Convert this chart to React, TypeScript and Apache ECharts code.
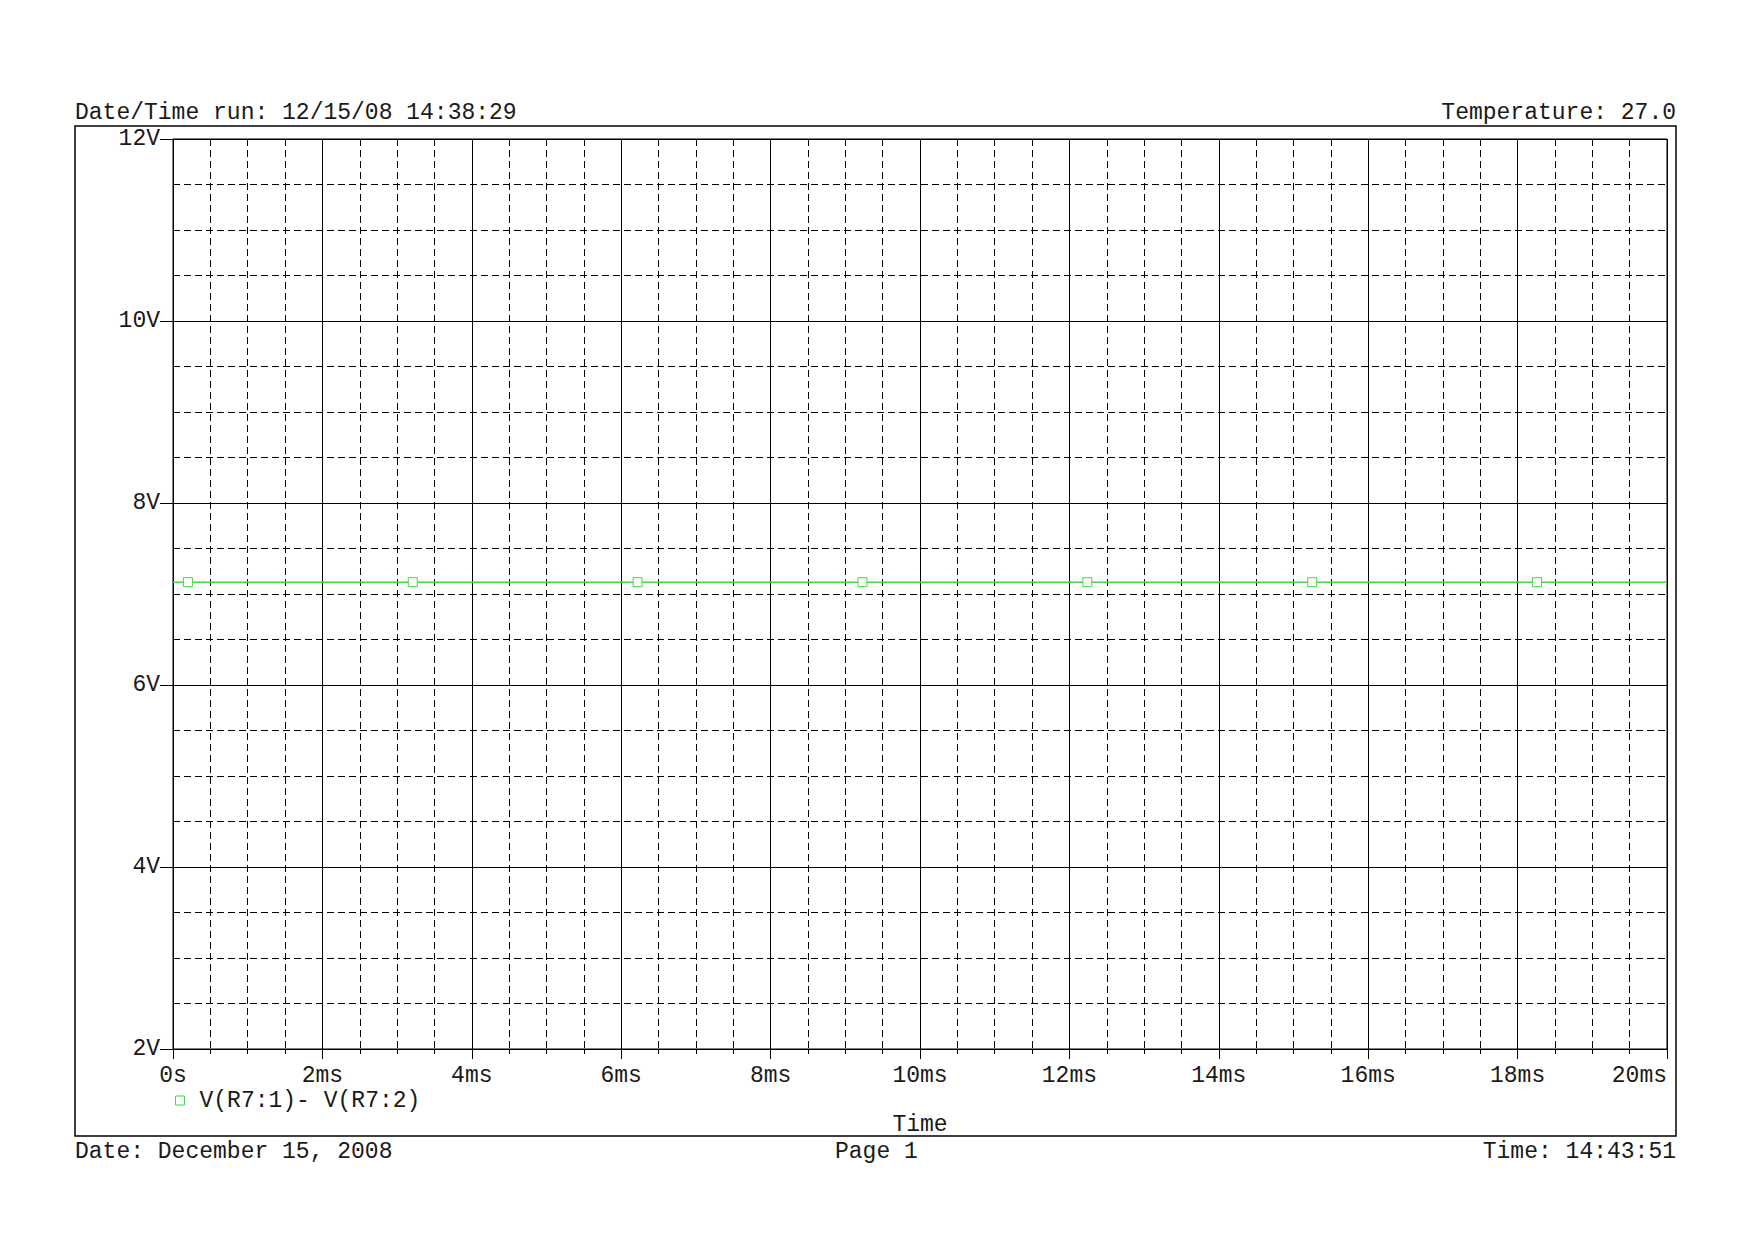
import React, { useEffect, useRef } from "react";
import * as echarts from "echarts";

const times = [0, 0.2, 3.21, 6.22, 9.23, 12.24, 15.25, 18.26, 20];
const voltages = [7.13, 7.13, 7.13, 7.13, 7.13, 7.13, 7.13, 7.13, 7.13];
const markerFlags = [false, true, true, true, true, true, true, true, false];
const seriesName = "V(R7:1)- V(R7:2)";
const headerLeft = "Date/Time run: 12/15/08 14:38:29";
const headerRight = "Temperature: 27.0";
const footerLeft = "Date: December 15, 2008";
const footerMid = "Page 1";
const footerRight = "Time: 14:43:51";
const xTitle = "Time";

const FONT = "'Liberation Mono', 'DejaVu Sans Mono', monospace";
const FS = 23;
const TXT = "#1a1a1a";
const GREEN = "#44d844";

export default function App() {
  const ref = useRef<HTMLDivElement>(null);
  useEffect(() => {
    if (!ref.current) return;
    const chart = echarts.init(ref.current, null, { renderer: "svg" });
    const data = times.map((t, i) => ({
      value: [t, voltages[i]],
      symbol: markerFlags[i] ? "rect" : "none",
    }));
    chart.setOption({
      animation: false,
      backgroundColor: "#ffffff",
      textStyle: { fontFamily: FONT },
      grid: {
        left: 173,
        top: 139,
        right: 87,
        bottom: 191,
        show: true,
        borderColor: "#000",
        borderWidth: 1,
      },
      legend: {
        left: 175,
        top: 1089,
        padding: 0,
        icon: "rect",
        itemWidth: 9,
        itemHeight: 9,
        itemStyle: { color: "#fff", borderColor: GREEN, borderWidth: 1 },
        textStyle: { fontFamily: FONT, fontSize: FS, color: TXT, padding: [0, 0, 0, 10] },
        data: [seriesName],
      },
      xAxis: {
        type: "value",
        min: 0,
        max: 20,
        interval: 2,
        axisLine: { show: true, lineStyle: { color: "#000", width: 1 } },
        axisTick: { show: true, length: 10, lineStyle: { color: "#000" } },
        minorTick: { show: true, splitNumber: 4, length: 5, lineStyle: { color: "#000" } },
        axisLabel: {
          color: TXT,
          fontFamily: FONT,
          fontSize: FS,
          margin: 15,
          alignMaxLabel: "right",
          formatter: (v: number) => (v === 0 ? "0s" : `${v}ms`),
        },
        splitLine: { show: true, lineStyle: { color: "#000", width: 1 } },
        minorSplitLine: { show: true, lineStyle: { color: "#000", width: 1, type: [7, 4] } },
      },
      yAxis: {
        type: "value",
        min: 2,
        max: 12,
        interval: 2,
        axisLine: { show: true, lineStyle: { color: "#000", width: 1 } },
        axisTick: { show: true, length: 13, lineStyle: { color: "#000" } },
        minorTick: { show: false, splitNumber: 4 },
        axisLabel: {
          color: TXT,
          fontFamily: FONT,
          fontSize: FS,
          margin: 13,
          formatter: (v: number) => `${v}V`,
        },
        splitLine: { show: true, lineStyle: { color: "#000", width: 1 } },
        minorSplitLine: { show: true, lineStyle: { color: "#000", width: 1, type: [7, 4] } },
      },
      series: [
        {
          name: seriesName,
          type: "line",
          data,
          symbolSize: 9,
          showAllSymbol: true,
          lineStyle: { color: GREEN, width: 1.5 },
          itemStyle: { color: "#fff", borderColor: GREEN, borderWidth: 1 },
          emphasis: { disabled: true },
        },
      ],
      graphic: [
        {
          type: "rect",
          shape: { x: 75, y: 126, width: 1601, height: 1010 },
          style: { fill: "none", stroke: "#000", lineWidth: 1.5 },
          silent: true,
        },
        {
          type: "text",
          x: 75,
          y: 113,
          style: { text: headerLeft, font: `${FS}px ${FONT}`, fill: TXT, textAlign: "left", textVerticalAlign: "middle" },
        },
        {
          type: "text",
          x: 1676,
          y: 113,
          style: { text: headerRight, font: `${FS}px ${FONT}`, fill: TXT, textAlign: "right", textVerticalAlign: "middle" },
        },
        {
          type: "text",
          x: 920,
          y: 1125,
          style: { text: xTitle, font: `${FS}px ${FONT}`, fill: TXT, textAlign: "center", textVerticalAlign: "middle" },
        },
        {
          type: "text",
          x: 75,
          y: 1152,
          style: { text: footerLeft, font: `${FS}px ${FONT}`, fill: TXT, textAlign: "left", textVerticalAlign: "middle" },
        },
        {
          type: "text",
          x: 835,
          y: 1152,
          style: { text: footerMid, font: `${FS}px ${FONT}`, fill: TXT, textAlign: "left", textVerticalAlign: "middle" },
        },
        {
          type: "text",
          x: 1676,
          y: 1152,
          style: { text: footerRight, font: `${FS}px ${FONT}`, fill: TXT, textAlign: "right", textVerticalAlign: "middle" },
        },
      ],
    });
    return () => chart.dispose();
  }, []);
  return (
    <div
      ref={ref}
      style={{ position: "fixed", left: 0, top: 0, width: 1754, height: 1240, background: "#fff" }}
    />
  );
}
